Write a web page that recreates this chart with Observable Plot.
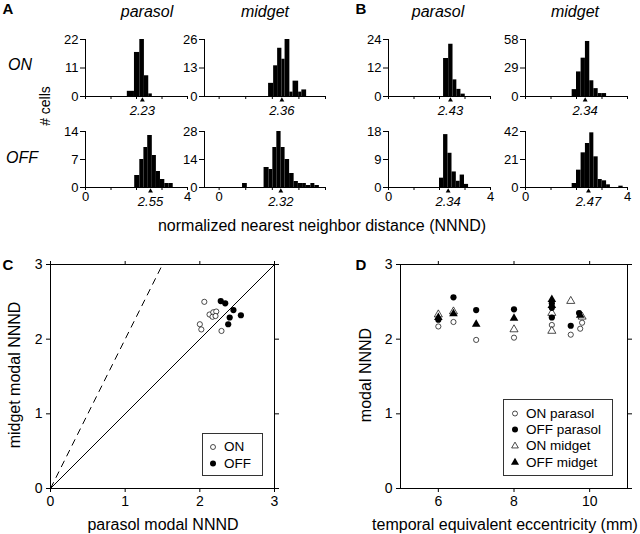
<!DOCTYPE html>
<html><head><meta charset="utf-8">
<script src="https://cdn.jsdelivr.net/npm/d3@7"></script>
<script src="https://cdn.jsdelivr.net/npm/@observablehq/plot@0.6"></script>
<style>
body{margin:0;background:#fff}
#fig{position:relative;width:640px;height:534px;overflow:hidden;background:#fff;font-family:"Liberation Sans",Arial,Helvetica,sans-serif;color:#000}
#fig svg{overflow:visible !important;position:absolute;max-width:none !important}
</style></head><body><div id="fig"></div><script>
// ---------------- DATA ----------------
// Panels A/B: histogram bin edges (NNND) and counts
const aOnParEdges = [1.64, 1.92, 2.13, 2.31, 2.48, 2.62];
const aOnParCounts = [2, 17, 22, 8, 1];
const aOnParTicks = [0, 11, 22];
const aOnParMode = 2.23;

const aOnMidEdges = [1.86, 2.05, 2.20, 2.36, 2.48, 2.66, 2.78, 2.99, 3.11, 3.29];
const aOnMidCounts = [6, 14, 22, 17, 26, 2, 7, 2, 3];
const aOnMidTicks = [0, 13, 26];
const aOnMidMode = 2.36;

const aOffParEdges = [1.93, 2.13, 2.29, 2.44, 2.62, 2.78, 2.94, 3.11, 3.27, 3.44];
const aOffParCounts = [3, 7, 10, 13, 8, 4, 2, 1, 1];
const aOffParTicks = [0, 7, 14];
const aOffParMode = 2.55;

const aOffMidEdges = [0.88, 1.06, 1.69, 1.88, 2.02, 2.17, 2.33, 2.48, 2.65, 2.82, 2.98, 3.14, 3.28, 3.45, 3.60, 3.77];
const aOffMidCounts = [2, 0, 10, 9, 20, 28, 20, 14, 7, 3, 2, 2, 1, 2, 1];
const aOffMidTicks = [0, 14, 28];
const aOffMidMode = 2.32;

const bOnParEdges = [2.16, 2.36, 2.53, 2.68, 2.84, 3.01];
const bOnParCounts = [16, 22, 7, 3, 1];
const bOnParTicks = [0, 12, 24];
const bOnParMode = 2.43;

const bOnMidEdges = [1.83, 2.00, 2.18, 2.35, 2.52, 2.68, 2.85, 3.01, 3.18];
const bOnMidCounts = [7, 25, 39, 56, 16, 8, 3, 3];
const bOnMidTicks = [0, 29, 58];
const bOnMidMode = 2.34;

const bOffParEdges = [2.00, 2.16, 2.33, 2.49, 2.66, 2.81, 2.98, 3.14];
const bOffParCounts = [3, 17, 11, 5, 2, 4, 1];
const bOffParTicks = [0, 9, 18];
const bOffParMode = 2.34;

const bOffMidEdges = [1.83, 2.00, 2.18, 2.35, 2.52, 2.68, 2.85, 3.01, 3.18, 3.33, 3.66, 3.83];
const bOffMidCounts = [3, 13, 26, 33, 41, 23, 6, 5, 2, 0, 1];
const bOffMidTicks = [0, 21, 42];
const bOffMidMode = 2.47;

const histXTicks = [0, 1, 2, 3, 4];

// Panel C: parasol vs midget modal NNND
const cOnParasol = [2.06, 2.00, 2.02, 2.13, 2.18, 2.22, 2.17, 2.21, 2.29];
const cOnMidget  = [2.50, 2.20, 2.13, 2.33, 2.36, 2.37, 2.30, 2.31, 2.11];
const cOffParasol = [2.28, 2.34, 2.45, 2.40, 2.55, 2.38];
const cOffMidget  = [2.51, 2.48, 2.39, 2.29, 2.32, 2.20];
const cRefSlopes = [1, 2];
const cTicks = [0, 1, 2, 3];

// Panel D: modal NNND vs eccentricity
const dOnParEcc  = [6, 6.4, 7, 8, 9, 9, 9.5, 9.75, 9.8];
const dOnParNNND = [2.17, 2.23, 1.99, 2.02, 2.19, 2.31, 2.06, 2.14, 2.22];
const dOffParEcc  = [6, 6.4, 7, 8, 9, 9, 9, 9.5, 9.72];
const dOffParNNND = [2.26, 2.56, 2.39, 2.40, 2.48, 2.42, 2.29, 2.18, 2.35];
const dOnMidEcc  = [6, 6.4, 8, 9, 9, 9.5, 9.8];
const dOnMidNNND = [2.33, 2.37, 2.13, 2.35, 2.11, 2.51, 2.30];
const dOffMidEcc  = [6, 6.4, 7, 8, 9, 9, 9.75];
const dOffMidNNND = [2.29, 2.34, 2.20, 2.28, 2.53, 2.45, 2.32];
const dXTicks = [6, 8, 10];
const dYTicks = [0, 1, 2, 3];
const dLegend = ["ON parasol", "OFF parasol", "ON midget", "OFF midget"];
const cLegend = ["ON", "OFF"];

// ---------------- DRAWING ----------------
const fig = document.getElementById("fig");
const FONT = '"Liberation Sans", Arial, Helvetica, sans-serif';

function txt(s, x, y, o = {}) {
  const d = document.createElement("div");
  d.textContent = s;
  d.style.cssText = `position:absolute;left:${x}px;top:${y}px;white-space:nowrap;line-height:1;` +
    `font-size:${o.size || 16}px;${o.italic ? "font-style:italic;" : ""}${o.bold ? "font-weight:bold;" : ""}` +
    `transform:translate(${o.anchor === "start" ? "0" : "-50%"},-50%)${o.rot ? " rotate(-90deg)" : ""};`;
  fig.appendChild(d);
}

function place(svg, left, top) {
  svg.style.left = left + "px";
  svg.style.top = top + "px";
  fig.appendChild(svg);
}

function hist(edges, counts, ticks, mode, o) {
  const mL = 40, mR = 14, mT = 6, mB = 30;
  const innerW = Math.round((4 - o.xmin) * o.unit);
  const innerH = o.base - o.top;
  const bins = counts.map((c, i) => ({x1: edges[i], x2: edges[i + 1], c}));
  const p = Plot.plot({
    width: mL + innerW + mR, height: mT + innerH + mB,
    marginLeft: mL, marginRight: mR, marginTop: mT, marginBottom: mB,
    x: {domain: [o.xmin, 4]}, y: {domain: [0, ticks[2]]},
    style: {fontFamily: FONT, fontSize: "13px", background: "transparent", color: "black"},
    marks: [
      Plot.rectY(bins.filter(b => b.c > 0), {x1: "x1", x2: "x2", y: "c", fill: "black", inset: 0}),
      Plot.ruleY([0], {stroke: "black"}),
      Plot.ruleX([o.xmin], {stroke: "black"}),
      Plot.axisY({ticks, tickSize: 5, tickPadding: 2, label: null, fontSize: 13, tickFormat: d => String(d)}),
      Plot.axisX({ticks: histXTicks, tickSize: 3, tickPadding: 1, label: null, fontSize: 13,
        tickFormat: d => (o.labels && o.shown.includes(d)) ? String(d) : ""}),
      Plot.dot([mode], {x: d => d, y: 0, symbol: "triangle", r: 1.8, fill: "black", stroke: null, dy: 3.5}),
      Plot.text([mode], {x: d => d, y: 0, text: d => d.toFixed(2), dy: 14, fontStyle: "italic", fontSize: 13})
    ]
  });
  place(p, o.left - mL, o.top - mT);
}

const row1 = {top: 39, base: 96, labels: false};
const row2 = {top: 131, base: 187, labels: true};
const aPar = {left: 85, unit: 25.5, xmin: 0, shown: [0, 4]};
const aMid = {left: 204, unit: 26.5, xmin: -0.55, shown: [0]};
const bPar = {left: 388, unit: 25.6, xmin: 0, shown: [0, 4]};
const bMid = {left: 525, unit: 25.5, xmin: 0, shown: [0, 4]};

hist(aOnParEdges, aOnParCounts, aOnParTicks, aOnParMode, {...aPar, ...row1});
hist(aOnMidEdges, aOnMidCounts, aOnMidTicks, aOnMidMode, {...aMid, ...row1});
hist(aOffParEdges, aOffParCounts, aOffParTicks, aOffParMode, {...aPar, ...row2});
hist(aOffMidEdges, aOffMidCounts, aOffMidTicks, aOffMidMode, {...aMid, ...row2});
hist(bOnParEdges, bOnParCounts, bOnParTicks, bOnParMode, {...bPar, ...row1});
hist(bOnMidEdges, bOnMidCounts, bOnMidTicks, bOnMidMode, {...bMid, ...row1});
hist(bOffParEdges, bOffParCounts, bOffParTicks, bOffParMode, {...bPar, ...row2});
hist(bOffMidEdges, bOffMidCounts, bOffMidTicks, bOffMidMode, {...bMid, ...row2});

// Panel labels / titles
txt("A", 8, 8, {size: 15, bold: true});
txt("B", 361, 8, {size: 15, bold: true});
txt("parasol", 147, 12, {italic: true});
txt("midget", 265, 12, {italic: true});
txt("parasol", 438, 12, {italic: true});
txt("midget", 575, 12, {italic: true});
txt("ON", 20, 65, {italic: true});
txt("OFF", 22, 158, {italic: true});
txt("# cells", 45, 106, {size: 14, rot: true});
txt("normalized nearest neighbor distance (NNND)", 322, 226);

// Scatter panels
function frameAxes(xt, yt) {
  return [
    Plot.frame({stroke: "black"}),
    Plot.axisX({ticks: xt, tickSize: 4, tickPadding: 4, label: null, fontSize: 14, tickFormat: d => String(d)}),
    Plot.axisX({anchor: "top", ticks: xt, tickSize: 4, tickFormat: () => "", label: null}),
    Plot.axisY({ticks: yt, tickSize: 4, tickPadding: 4, label: null, fontSize: 14, tickFormat: d => String(d)}),
    Plot.axisY({anchor: "right", ticks: yt, tickSize: 4, tickFormat: () => "", label: null})
  ];
}

const cOn = cOnParasol.map((x, i) => ({x, y: cOnMidget[i]}));
const cOff = cOffParasol.map((x, i) => ({x, y: cOffMidget[i]}));
const cPlot = Plot.plot({
  width: 300, height: 270, marginLeft: 50, marginTop: 20, marginRight: 26, marginBottom: 26,
  x: {domain: [0, 3]}, y: {domain: [0, 3]},
  style: {fontFamily: FONT, fontSize: "14px", background: "transparent", color: "black"},
  marks: [
    ...frameAxes(cTicks, cTicks),
    Plot.link(cRefSlopes.filter(s => s === 1), {x1: 0, y1: 0, x2: s => Math.min(3, 3 / s), y2: s => Math.min(3, 3 * s), stroke: "black", strokeWidth: 1}),
    Plot.link(cRefSlopes.filter(s => s === 2), {x1: 0, y1: 0, x2: s => Math.min(3, 3 / s), y2: s => Math.min(3, 3 * s), stroke: "black", strokeWidth: 1, strokeDasharray: "7,5"}),
    Plot.dot(cOn, {x: "x", y: "y", r: 2.6, stroke: "black", strokeWidth: 0.7, fill: "white"}),
    Plot.dot(cOff, {x: "x", y: "y", r: 3.1, fill: "black", stroke: null})
  ]
});
place(cPlot, 0, 244);

const zip = (xs, ys) => xs.map((x, i) => ({x, y: ys[i]}));
const dPlot = Plot.plot({
  width: 300, height: 270, marginLeft: 50, marginTop: 20, marginRight: 23, marginBottom: 26,
  x: {domain: [5, 11]}, y: {domain: [0, 3]},
  style: {fontFamily: FONT, fontSize: "14px", background: "transparent", color: "black"},
  marks: [
    ...frameAxes(dXTicks, dYTicks),
    Plot.dot(zip(dOnParEcc, dOnParNNND), {x: "x", y: "y", r: 2.6, stroke: "black", strokeWidth: 0.7, fill: "white"}),
    Plot.dot(zip(dOnMidEcc, dOnMidNNND), {x: "x", y: "y", r: 3, symbol: "triangle", stroke: "black", strokeWidth: 0.7, fill: "white"}),
    Plot.dot(zip(dOffParEcc, dOffParNNND), {x: "x", y: "y", r: 3.1, fill: "black", stroke: null}),
    Plot.dot(zip(dOffMidEcc, dOffMidNNND), {x: "x", y: "y", r: 3.2, symbol: "triangle", fill: "black", stroke: null})
  ]
});
place(dPlot, 350, 244);

txt("C", 8, 264, {size: 15, bold: true});
txt("D", 361, 264, {size: 15, bold: true});
txt("midget modal NNND", 15, 375, {rot: true});
txt("parasol modal NNND", 163, 525);
txt("modal NNND", 366, 375, {rot: true});
txt("temporal equivalent eccentricity (mm)", 505, 525);

// Legends
function legend(x, y, w, h, labels, symbols, rowYs, mx, tx) {
  const box = document.createElement("div");
  box.style.cssText = `position:absolute;left:${x}px;top:${y}px;width:${w}px;height:${h}px;border:1px solid #333;box-sizing:border-box;background:#fff`;
  fig.appendChild(box);
  const ns = "http://www.w3.org/2000/svg";
  const svg = document.createElementNS(ns, "svg");
  svg.setAttribute("width", 640); svg.setAttribute("height", 534);
  svg.style.cssText = "position:absolute;left:0;top:0";
  labels.forEach((lab, i) => {
    const s = symbols[i];
    const path = document.createElementNS(ns, "path");
    const r = s.filled ? 3 : 2.5;
    path.setAttribute("d", d3.symbol(s.shape === "triangle" ? d3.symbolTriangle : d3.symbolCircle, Math.PI * r * r)());
    path.setAttribute("transform", `translate(${mx},${rowYs[i]})`);
    path.setAttribute("fill", s.filled ? "black" : "white");
    path.setAttribute("stroke", s.filled ? "none" : "black");
    path.setAttribute("stroke-width", 0.7);
    svg.appendChild(path);
    txt(lab, tx, rowYs[i], {size: 13.5, anchor: "start"});
  });
  fig.appendChild(svg);
}
legend(202, 433, 61, 43, cLegend, [{shape: "circle", filled: false}, {shape: "circle", filled: true}], [447, 463.5], 213, 224);
legend(503, 399, 110, 77, dLegend,
  [{shape: "circle", filled: false}, {shape: "circle", filled: true}, {shape: "triangle", filled: false}, {shape: "triangle", filled: true}],
  [413.5, 429.5, 446, 462.5], 515, 526);
</script></body></html>
